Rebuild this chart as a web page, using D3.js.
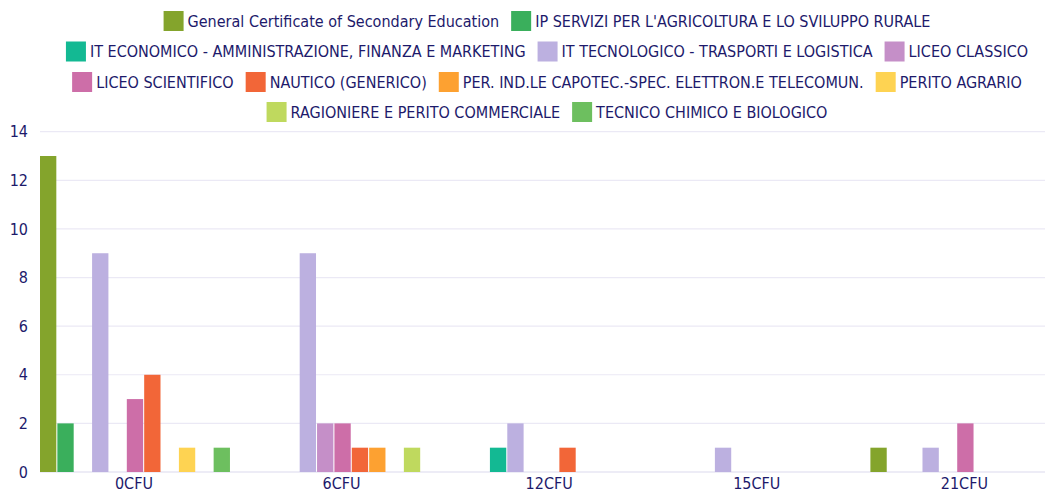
<!DOCTYPE html>
<html><head><meta charset="utf-8">
<script src="https://cdn.jsdelivr.net/npm/d3@7"></script>
<style>
html,body{margin:0;padding:0;background:#fff;}
svg{display:block;}
</style></head>
<body>
<svg id="chart" width="1045" height="493"></svg>
<script>
const categories = ["0CFU", "6CFU", "12CFU", "15CFU", "21CFU"];
const seriesNames = [
  "General Certificate of Secondary Education",
  "IP SERVIZI PER L'AGRICOLTURA E LO SVILUPPO RURALE",
  "IT ECONOMICO - AMMINISTRAZIONE, FINANZA E MARKETING",
  "IT TECNOLOGICO - TRASPORTI E LOGISTICA",
  "LICEO CLASSICO",
  "LICEO SCIENTIFICO",
  "NAUTICO (GENERICO)",
  "PER. IND.LE CAPOTEC.-SPEC. ELETTRON.E TELECOMUN.",
  "PERITO AGRARIO",
  "RAGIONIERE E PERITO COMMERCIALE",
  "TECNICO CHIMICO E BIOLOGICO"
];
const seriesColors = ["#84a42c","#3aaf5c","#13b993","#bcb0e0","#c58fc8","#cd6ea8","#f26638","#fda131","#fed352","#bfd95e","#6dbf5f"];
// values per series, in category order
const gcse        = [13, 0, 0, 0, 1];
const ipServizi   = [2, 0, 0, 0, 0];
const itEconomico = [0, 0, 1, 0, 0];
const itTecnolog  = [9, 9, 2, 1, 1];
const liceoClass  = [0, 2, 0, 0, 0];
const liceoScient = [3, 2, 0, 0, 2];
const nautico     = [4, 1, 1, 0, 0];
const perInd      = [0, 1, 0, 0, 0];
const peritoAgr   = [1, 0, 0, 0, 0];
const ragioniere  = [0, 1, 0, 0, 0];
const tecnicoChim = [1, 0, 0, 0, 0];
const seriesValues = [gcse, ipServizi, itEconomico, itTecnolog, liceoClass, liceoScient, nautico, perInd, peritoAgr, ragioniere, tecnicoChim];
const yTicks = [0, 2, 4, 6, 8, 10, 12, 14];
const legendRows = [[0,1],[2,3,4],[5,6,7,8],[9,10]];

const FONT = "'Liberation Sans Narrow', 'DejaVu Sans Condensed', Roboto, sans-serif";
const TEXT = "#1d1a6b";
const svg = d3.select("#chart");

const pLeft = 40, pRight = 1045, pTop = 131.7, pBottom = 472;
const step = 207.6, padIn = 0.085;
const x0 = d3.scaleBand().domain(categories)
  .range([pLeft, pLeft + step * (categories.length - padIn)])
  .paddingInner(padIn).paddingOuter(0).align(0);
const x1 = d3.scaleBand().domain(d3.range(seriesNames.length)).range([0, x0.bandwidth()]).paddingInner(0.06).paddingOuter(0);
const y = d3.scaleLinear().domain([0, 14]).range([pBottom, pTop]);

// grid
svg.append("g").selectAll("line").data(yTicks).join("line")
  .attr("x1", pLeft).attr("x2", pRight)
  .attr("y1", d => y(d)).attr("y2", d => y(d))
  .attr("stroke", d => d === 0 ? "#dcdaee" : "#ebe9f5").attr("stroke-width", 1.2);

// y labels
svg.append("g").selectAll("text").data(yTicks).join("text")
  .attr("x", 28).attr("y", d => y(d)).attr("dy", "0.35em")
  .attr("text-anchor", "end").attr("fill", TEXT)
  .style("font-family", FONT).style("font-size", "16px").text(d => d);

// bars
svg.append("clipPath").attr("id", "clip").append("rect").attr("x", pLeft).attr("y", 0).attr("width", pRight - pLeft).attr("height", 493);
const barsG = svg.append("g").attr("clip-path", "url(#clip)");
seriesValues.forEach((vals, si) => {
  barsG.append("g").selectAll("rect").data(vals.map((v, ci) => ({v, c: categories[ci]})).filter(d => d.v > 0)).join("rect")
    .attr("x", d => x0(d.c) + x1(si))
    .attr("width", x1.bandwidth())
    .attr("y", d => y(d.v))
    .attr("height", d => y(0) - y(d.v))
    .attr("fill", seriesColors[si]);
});

// x labels
svg.append("g").selectAll("text").data(categories).join("text")
  .attr("x", d => x0(d) + x0.bandwidth() / 2 - 1)
  .attr("y", 489).attr("text-anchor", "middle").attr("fill", TEXT)
  .style("font-family", FONT).style("font-size", "16px").text(d => d);

// legend
const legG = svg.append("g");
const rowY = [21, 51.5, 82, 112];
const cx = 547;
legendRows.forEach((row, ri) => {
  const g = legG.append("g");
  let xpos = 0;
  row.forEach(si => {
    const it = g.append("g").attr("transform", `translate(${xpos},0)`);
    it.append("rect").attr("x", 0).attr("y", -10).attr("width", 20).attr("height", 20).attr("fill", seriesColors[si]);
    const t = it.append("text").attr("x", 24).attr("y", 0).attr("dy", "0.35em").attr("fill", TEXT)
      .style("font-family", FONT).style("font-size", "16px").text(seriesNames[si]);
    const w = t.node().getComputedTextLength();
    xpos += 24 + w + 12;
  });
  const total = xpos - 12;
  g.attr("transform", `translate(${cx - total / 2},${rowY[ri]})`);
});
</script>
</body></html>
